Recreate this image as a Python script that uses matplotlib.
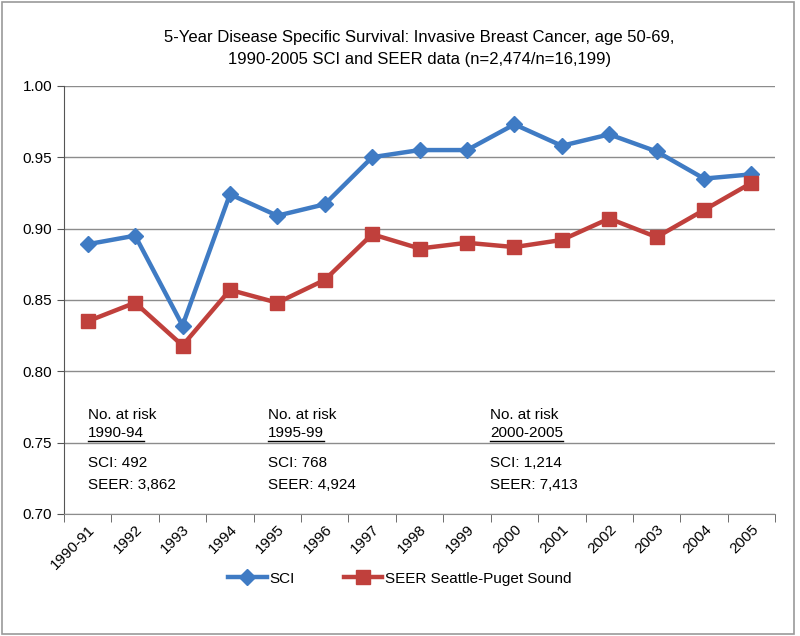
import matplotlib
matplotlib.use("Agg")
import matplotlib.pyplot as plt
from matplotlib.patches import Rectangle
from matplotlib.lines import Line2D

plt.rcParams['font.family'] = ['Liberation Sans', 'DejaVu Sans']

categories = ["1990-91", "1992", "1993", "1994", "1995", "1996", "1997", "1998",
              "1999", "2000", "2001", "2002", "2003", "2004", "2005"]
sci = [0.889, 0.895, 0.832, 0.924, 0.909, 0.917, 0.950, 0.955, 0.955,
       0.973, 0.958, 0.966, 0.954, 0.935, 0.938]
seer = [0.835, 0.848, 0.818, 0.857, 0.848, 0.864, 0.896, 0.886, 0.890,
        0.887, 0.892, 0.907, 0.894, 0.913, 0.932]
yticks = [0.70, 0.75, 0.80, 0.85, 0.90, 0.95, 1.00]
risk_periods = ["1990-94", "1995-99", "2000-2005"]
risk_sci = ["492", "768", "1,214"]
risk_seer = ["3,862", "4,924", "7,413"]
risk_x = [0.0, 3.8, 8.48]

title = ("5-Year Disease Specific Survival: Invasive Breast Cancer, age 50-69,\n"
         "1990-2005 SCI and SEER data (n=2,474/n=16,199)")

blue = "#3F7BC4"
red = "#C0403C"

fig = plt.figure(figsize=(8.0, 6.36), dpi=100)
fig.patches.append(Rectangle((0.002, 0.003), 0.991, 0.994, transform=fig.transFigure,
                             fill=False, edgecolor="#9a9a9a", linewidth=1.2))
ax = fig.add_axes([0.08, 0.192, 0.889, 0.673])

x = list(range(len(categories)))
ax.plot(x, sci, color=blue, linewidth=3.2, marker="D", markersize=8,
        markerfacecolor=blue, markeredgecolor=blue, label="SCI", zorder=3)
ax.plot(x, seer, color=red, linewidth=3.2, marker="s", markersize=10,
        markerfacecolor=red, markeredgecolor=red, label="SEER Seattle-Puget Sound", zorder=3)

ax.set_xlim(-0.5, len(categories) - 0.5)
ax.set_ylim(0.70, 1.00)
ax.set_yticks(yticks)
ax.set_yticklabels([f"{v:.2f}" for v in yticks], fontsize=11)
ax.yaxis.grid(True, color="#8c8c8c", linewidth=1.0)
ax.set_axisbelow(True)

ax.set_xticks(x)
ax.set_xticklabels(categories, rotation=45, ha="right", rotation_mode="anchor", fontsize=11)
ax.tick_params(axis="x", length=0, pad=6)
ax.set_xticks([i - 0.5 for i in range(len(categories) + 1)], minor=True)
ax.tick_params(axis="x", which="minor", length=6, color="#555555", direction="out")
ax.tick_params(axis="y", length=5, color="#555555", direction="out")

for s in ["top", "right"]:
    ax.spines[s].set_visible(False)
ax.spines["left"].set_color("#555555")
ax.spines["bottom"].set_color("#8c8c8c")

ax.set_title(title, fontsize=12, pad=16, linespacing=1.55)

for xi, per, s1, s2 in zip(risk_x, risk_periods, risk_sci, risk_seer):
    ax.text(xi, 0.7696, "No. at risk", fontsize=11, va="center", ha="left")
    t = ax.text(xi, 0.7565, per, fontsize=11, va="center", ha="left")
    ax.text(xi, 0.7355, "SCI: " + s1, fontsize=11, va="center", ha="left")
    ax.text(xi, 0.7205, "SEER: " + s2, fontsize=11, va="center", ha="left")
    fig.canvas.draw()
    bb = t.get_window_extent().transformed(ax.transData.inverted())
    ax.add_line(Line2D([bb.x0, bb.x1], [bb.y0 - 0.0005, bb.y0 - 0.0005],
                       color="black", linewidth=1.0))

fig.legend(loc="center", bbox_to_anchor=(0.5, 0.09), ncol=2, frameon=False,
           fontsize=11, handlelength=2.5, columnspacing=3.2, handletextpad=0.2)

fig.savefig("out.png", dpi=100)
